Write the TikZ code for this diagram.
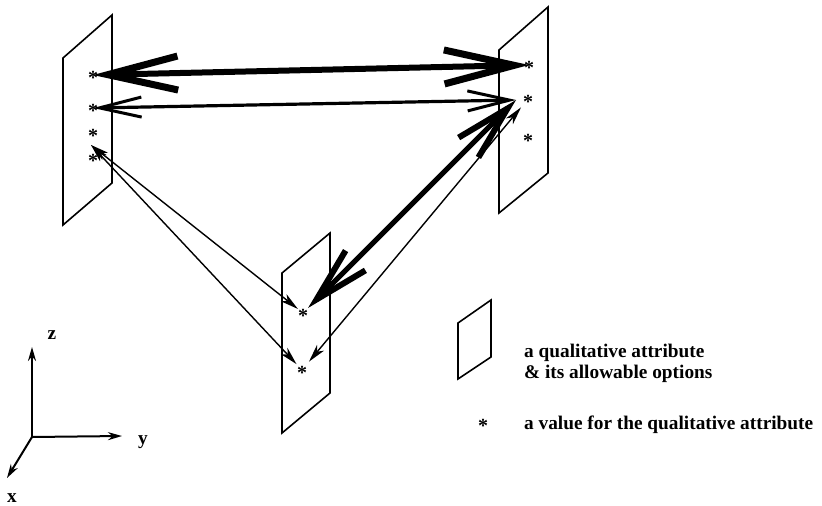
\documentclass[tikz,border=0pt]{standalone}
\usepackage{fontspec}
\setmainfont{Liberation Serif}
\usetikzlibrary{arrows.meta,calc}
\newcommand\vstar{\raisebox{-0.46em}{*}}
\tikzset{
  panel/.style={draw, line width=1.6pt, line join=miter},
  valstar/.style={inner sep=0pt, text height=0.2em, text depth=0.2em, font=\fontsize{20}{20}\selectfont\bfseries},
  lab/.style={font=\fontsize{19.3}{22}\selectfont\bfseries, inner sep=0pt},
  hugehead/.tip={Straight Barb[length=70pt,width=34pt,line width=7pt]},
  bighead/.tip={Straight Barb[length=55pt,width=28pt,line width=6pt]},
  midhead/.tip={Straight Barb[length=42pt,width=20pt,line width=3pt]},
  thinhead/.tip={Stealth[length=18pt,width=9pt,inset=5pt]},
  hugearrow/.style={line width=6pt, hugehead-hugehead},
  bigarrow/.style={line width=5pt, bighead-bighead},
  midarrow/.style={line width=3.2pt, midhead-midhead},
  thinarrow/.style={line width=1.4pt, thinhead-thinhead},
  axisarrow/.style={line width=2pt, -{Stealth[length=14pt,width=8pt]}},
}
\begin{document}
\begin{tikzpicture}[x=1pt,y=-1pt]
\useasboundingbox (0,0) rectangle (822,506);
% panels
\draw[panel] (63,58) -- (112,15) -- (112,183) -- (63,225) -- cycle;
\draw[panel] (499,50) -- (548,7) -- (548,173) -- (499,213) -- cycle;
\draw[panel] (282,273) -- (330,233) -- (330,393) -- (282,433) -- cycle;
\draw[panel] (458,323) -- (491,300) -- (491,357) -- (458,379) -- cycle;
% values
\node[valstar] (L1) at (93,75) {\vstar};
\node[valstar] (L2) at (93,108) {\vstar};
\node[valstar] (L3) at (93,133) {\vstar};
\node[valstar] (L4) at (93,158) {\vstar};
\node[valstar] (R1) at (529,65) {\vstar};
\node[valstar] (R2) at (528,99) {\vstar};
\node[valstar] (R3) at (528,138) {\vstar};
\node[valstar] (M1) at (303,313) {\vstar};
\node[valstar] (M2) at (302,370) {\vstar};
\coordinate (Rtip) at (516,100);
\coordinate (Lmid) at (91,145);
% connections
\draw[hugearrow] (L1.center) -- (R1.center);
\draw[midarrow] (L2.center) -- (Rtip);
\draw[bigarrow, shorten <=4pt] (M1) -- (Rtip);
\draw[thinarrow, shorten <=8pt, shorten >=8pt] (M2) -- (R2);
\draw[thinarrow, shorten >=3pt] (Lmid) -- (M1);
\draw[thinarrow, shorten >=5pt] (Lmid) -- (M2);
% axes
\coordinate (O) at (32,437);
\coordinate (Z) at (32,347);
\coordinate (Y) at (122,436);
\coordinate (X) at (7,478);
\draw[axisarrow] (O) -- (Z);
\draw[axisarrow] (O) -- (Y);
\draw[axisarrow] (O) -- (X);
\node[lab] (zl) at (52,335) {z};
\node[lab] (yl) at (143,442) {y};
\node[lab] (xl) at (12,498) {x};
% legend
\node[lab, anchor=west] (t1) at (524,353) {a qualitative attribute};
\node[lab, anchor=west] (t2) at (524,374) {\& its allowable options};
\node[valstar] (S) at (483,423) {\vstar};
\node[lab, anchor=west] (t3) at (524,425) {a value for the qualitative attribute};
\end{tikzpicture}
\end{document}
